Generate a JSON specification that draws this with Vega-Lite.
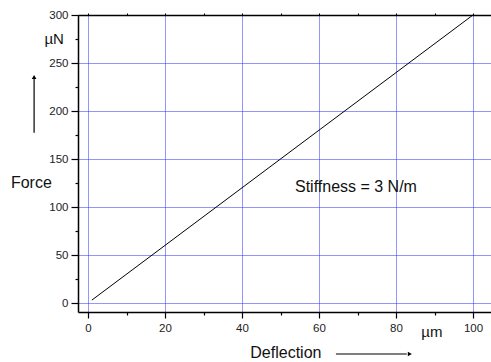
{
  "$schema": "https://vega.github.io/schema/vega-lite/v6.json",
  "width": 413,
  "height": 297,
  "autosize": "none",
  "padding": {"left": 78, "top": 15, "right": 0, "bottom": 50},
  "background": "white",
  "config": {"view": {"stroke": null}, "font": "Liberation Sans"},
  "datasets": {
    "line": [{"d": 1, "f": 3}, {"d": 100, "f": 300}],
    "labels": [
      {"x": -14.7, "y": 124.5, "label": "Force"},
      {"x": 51.4, "y": -51.8, "label": "Deflection"},
      {"x": 69.6, "y": 120.8, "label": "Stiffness = 3 N/m"}
    ],
    "units": [
      {"x": -8.8, "y": 275, "label": "µN"},
      {"x": 89.3, "y": -29.9, "label": "µm"}
    ],
    "arrows": [
      {"x": -14.0, "y": 177.4, "x2": -14.0, "y2": 233.5},
      {"x": 64.4, "y": -53.1, "x2": 82.8, "y2": -53.1}
    ],
    "heads": [
      {"x": -14.0, "y": 235.5, "dir": "up"},
      {"x": 83.6, "y": -53.1, "dir": "right"}
    ]
  },
  "resolve": {"axis": {"x": "independent", "y": "independent"}},
  "layer": [
    {
      "data": {"name": "line"},
      "mark": {"type": "line", "color": "black", "strokeWidth": 1},
      "encoding": {
        "x": {
          "field": "d", "type": "quantitative",
          "scale": {"domain": [-2.5974, 104.675], "nice": false, "zero": false},
          "axis": {
            "orient": "bottom", "title": null,
            "values": [0, 10, 20, 30, 40, 50, 60, 70, 80, 90, 100],
            "labelExpr": "datum.value % 20 === 0 ? datum.label : ''",
            "grid": true,
            "gridColor": "#2a2aff",
            "gridDash": [1, 1],
            "gridWidth": 1,
            "gridOpacity": {"condition": {"test": "datum.value % 20 === 0", "value": 1}, "value": 0},
            "tickSize": {"condition": {"test": "datum.value % 20 === 0", "value": 6}, "value": 3},
            "tickColor": "black", "tickWidth": 1.2,
            "domainColor": "black", "domainWidth": 1.5,
            "labelFont": "Liberation Sans", "labelFontSize": 11.5, "labelColor": "#222",
            "labelPadding": 4
          }
        },
        "y": {
          "field": "f", "type": "quantitative",
          "scale": {"domain": [-9.375, 300], "nice": false, "zero": false},
          "axis": {
            "orient": "left", "title": null,
            "values": [0, 25, 50, 75, 100, 125, 150, 175, 200, 225, 250, 275, 300],
            "labelExpr": "datum.value % 50 === 0 ? datum.label : ''",
            "grid": true,
            "gridColor": "#2a2aff",
            "gridDash": [1, 1],
            "gridWidth": 1,
            "gridOpacity": {"condition": {"test": "datum.value % 50 === 0", "value": 1}, "value": 0},
            "tickSize": {"condition": {"test": "datum.value % 50 === 0", "value": 7}, "value": 3},
            "tickColor": "black", "tickWidth": 1.2,
            "domainColor": "black", "domainWidth": 1.5,
            "labelFont": "Liberation Sans", "labelFontSize": 11.5, "labelColor": "#222",
            "labelPadding": 3
          }
        }
      }
    },
    {
      "data": {"name": "line"},
      "mark": {"type": "line", "opacity": 0},
      "encoding": {
        "x": {
          "field": "d", "type": "quantitative",
          "axis": {
            "orient": "top", "title": null, "labels": false, "grid": false,
            "values": [0, 10, 20, 30, 40, 50, 60, 70, 80, 90, 100],
            "tickSize": 2, "tickColor": "black", "tickWidth": 1,
            "domainColor": "black", "domainWidth": 1.5
          }
        },
        "y": {"field": "f", "type": "quantitative", "axis": null}
      }
    },
    {
      "data": {"name": "labels"},
      "mark": {"type": "text", "fontSize": 16, "font": "Liberation Sans", "color": "#111", "align": "center", "baseline": "middle"},
      "encoding": {
        "x": {"field": "x", "type": "quantitative", "axis": null},
        "y": {"field": "y", "type": "quantitative", "axis": null},
        "text": {"field": "label"}
      }
    },
    {
      "data": {"name": "units"},
      "mark": {"type": "text", "fontSize": 15, "font": "Liberation Sans", "color": "#111", "align": "center", "baseline": "middle"},
      "encoding": {
        "x": {"field": "x", "type": "quantitative", "axis": null},
        "y": {"field": "y", "type": "quantitative", "axis": null},
        "text": {"field": "label"}
      }
    },
    {
      "data": {"name": "arrows"},
      "mark": {"type": "rule", "color": "black", "strokeWidth": 1.2},
      "encoding": {
        "x": {"field": "x", "type": "quantitative", "axis": null},
        "y": {"field": "y", "type": "quantitative", "axis": null},
        "x2": {"field": "x2"},
        "y2": {"field": "y2"}
      }
    },
    {
      "data": {"name": "heads"},
      "mark": {"type": "point", "filled": true, "color": "black", "size": 22, "opacity": 1},
      "encoding": {
        "x": {"field": "x", "type": "quantitative", "axis": null},
        "y": {"field": "y", "type": "quantitative", "axis": null},
        "shape": {"field": "dir", "type": "nominal", "scale": {"domain": ["up", "right"], "range": ["triangle-up", "triangle-right"]}, "legend": null}
      }
    }
  ]
}
